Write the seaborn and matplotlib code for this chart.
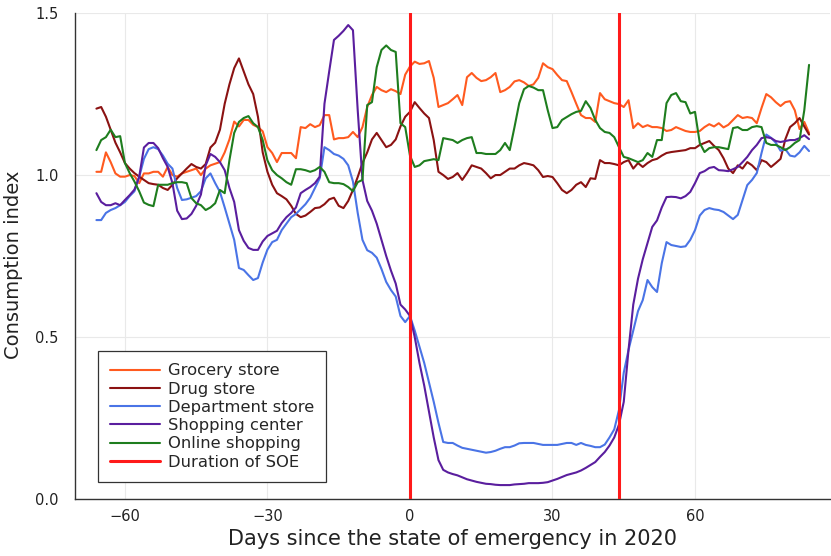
import numpy as np
import pandas as pd
import matplotlib
matplotlib.use("Agg")
import matplotlib.pyplot as plt
import seaborn as sns

# Days relative to the declaration of the state of emergency (SOE)
days = list(range(-66, 85))
soe_start, soe_end = 0, 44

grocery = [
    1.01, 1.01, 1.07, 1.04, 1.005, 0.995, 0.995, 1.00, 0.997, 0.975,
    1.005, 1.005, 1.01, 1.01, 0.995, 1.025, 1.00, 0.995, 1.005, 1.01,
    1.015, 1.02, 1.00, 1.02, 1.03, 1.035, 1.04, 1.07, 1.11, 1.165,
    1.15, 1.17, 1.17, 1.155, 1.148, 1.135, 1.086, 1.068, 1.04, 1.068,
    1.068, 1.068, 1.052, 1.148, 1.145, 1.157, 1.148, 1.154, 1.185, 1.185,
    1.11, 1.114, 1.114, 1.117, 1.133, 1.117, 1.148, 1.21, 1.247, 1.272,
    1.262, 1.256, 1.265, 1.259, 1.25, 1.31, 1.335, 1.35, 1.343, 1.345,
    1.352, 1.30, 1.21, 1.216, 1.222, 1.234, 1.247, 1.216, 1.302, 1.315,
    1.30, 1.29, 1.293, 1.302, 1.315, 1.256, 1.262, 1.272, 1.289, 1.293,
    1.286, 1.275, 1.28, 1.30, 1.345, 1.333, 1.327, 1.309, 1.293, 1.29,
    1.256, 1.22, 1.185, 1.176, 1.176, 1.164, 1.253, 1.234, 1.228, 1.222,
    1.219, 1.21, 1.231, 1.145, 1.16, 1.148, 1.154, 1.148, 1.148, 1.145,
    1.136, 1.139, 1.148, 1.142, 1.136, 1.133, 1.133, 1.136, 1.148, 1.157,
    1.15, 1.16, 1.147, 1.155, 1.17, 1.185, 1.176, 1.179, 1.176, 1.16,
    1.207, 1.25, 1.24, 1.225, 1.213, 1.225, 1.228, 1.20, 1.142, 1.164,
    1.13,
]

drug = [
    1.205, 1.21, 1.18, 1.14, 1.10, 1.07, 1.037, 1.02, 1.006, 0.995,
    0.985, 0.975, 0.972, 0.97, 0.96, 0.954, 0.97, 0.99, 1.005, 1.02,
    1.034, 1.025, 1.02, 1.034, 1.085, 1.10, 1.14, 1.22, 1.28, 1.33,
    1.36, 1.32, 1.28, 1.25, 1.18, 1.07, 1.01, 0.97, 0.944, 0.935,
    0.925, 0.905, 0.88, 0.87, 0.875, 0.886, 0.898, 0.90, 0.91, 0.925,
    0.93, 0.905, 0.898, 0.92, 0.954, 0.994, 1.037, 1.07, 1.11, 1.13,
    1.108, 1.086, 1.093, 1.11, 1.15, 1.18, 1.195, 1.225, 1.207, 1.19,
    1.176, 1.108, 1.01, 1.0, 0.988, 0.994, 1.006, 0.985, 1.006, 1.03,
    1.025, 1.02, 1.006, 0.99, 1.0, 1.0, 1.01, 1.02, 1.02, 1.03,
    1.037, 1.034, 1.03, 1.015, 0.994, 0.997, 0.994, 0.975, 0.954, 0.944,
    0.954, 0.97, 0.978, 0.963, 0.99, 0.988, 1.046, 1.037, 1.037, 1.034,
    1.03, 1.04, 1.046, 1.02, 1.037, 1.025, 1.037, 1.046, 1.05, 1.06,
    1.068, 1.071, 1.073, 1.075, 1.077, 1.083, 1.083, 1.093, 1.099, 1.105,
    1.09, 1.077, 1.052, 1.02, 1.006, 1.03, 1.02, 1.04, 1.03, 1.015,
    1.046, 1.04, 1.025, 1.037, 1.05, 1.11, 1.148, 1.16, 1.176, 1.15,
    1.125,
]

department = [
    0.861, 0.861, 0.883, 0.892, 0.898, 0.907, 0.917, 0.935, 0.95, 0.994,
    1.05, 1.08, 1.086, 1.08, 1.06, 1.035, 1.02, 0.96, 0.923, 0.925,
    0.93, 0.935, 0.95, 0.99, 1.005, 0.975, 0.948, 0.90, 0.85, 0.80,
    0.713, 0.707, 0.691, 0.676, 0.682, 0.73, 0.77, 0.793, 0.80, 0.83,
    0.85, 0.87, 0.88, 0.895, 0.91, 0.93, 0.96, 0.99, 1.086, 1.077,
    1.065, 1.06, 1.05, 1.03, 0.98, 0.883, 0.80, 0.768, 0.76, 0.745,
    0.71, 0.67, 0.645, 0.625, 0.565, 0.546, 0.565, 0.52, 0.47, 0.42,
    0.36, 0.30, 0.235, 0.176, 0.173, 0.173, 0.165, 0.158, 0.155, 0.152,
    0.149, 0.146, 0.143, 0.145, 0.149, 0.155, 0.16, 0.16, 0.165, 0.172,
    0.173, 0.173, 0.173, 0.17, 0.167, 0.167, 0.167, 0.167, 0.17, 0.173,
    0.173, 0.167, 0.173, 0.167, 0.164, 0.16, 0.16, 0.168, 0.19, 0.215,
    0.275, 0.39, 0.46, 0.52, 0.58, 0.614, 0.676, 0.654, 0.639, 0.728,
    0.793, 0.784, 0.781, 0.778, 0.78, 0.80, 0.83, 0.875, 0.892, 0.898,
    0.894, 0.892, 0.886, 0.875, 0.864, 0.877, 0.923, 0.969, 0.985, 1.006,
    1.068, 1.125, 1.115, 1.10, 1.075, 1.08, 1.06, 1.057, 1.07, 1.09,
    1.074,
]

shopping = [
    0.944, 0.917, 0.907, 0.907, 0.913, 0.907, 0.923, 0.938, 0.955, 0.994,
    1.085, 1.099, 1.099, 1.083, 1.052, 1.025, 0.975, 0.89, 0.864, 0.866,
    0.88, 0.905, 0.94, 1.03, 1.065, 1.056, 1.04, 1.015, 0.96, 0.917,
    0.83, 0.797, 0.775, 0.769, 0.769, 0.795, 0.812, 0.82, 0.828, 0.852,
    0.87, 0.883, 0.90, 0.944, 0.954, 0.963, 0.975, 0.995, 1.22, 1.32,
    1.417, 1.43, 1.445, 1.463, 1.447, 1.2, 0.985, 0.92, 0.89, 0.85,
    0.80, 0.75, 0.705, 0.665, 0.60, 0.585, 0.565, 0.50, 0.42, 0.35,
    0.27, 0.19, 0.12, 0.09, 0.082, 0.077, 0.073, 0.067, 0.061, 0.057,
    0.053, 0.05, 0.047, 0.046, 0.044, 0.043, 0.043, 0.043, 0.045, 0.046,
    0.047, 0.049, 0.049, 0.049, 0.05, 0.052, 0.057, 0.062, 0.068, 0.074,
    0.078, 0.082, 0.088, 0.096, 0.105, 0.114, 0.13, 0.145, 0.165, 0.19,
    0.23, 0.30, 0.46, 0.60, 0.68, 0.74, 0.79, 0.84, 0.86, 0.90,
    0.932, 0.933, 0.932, 0.928, 0.935, 0.948, 0.975, 1.006, 1.012, 1.022,
    1.025, 1.015, 1.014, 1.012, 1.018, 1.025, 1.04, 1.056, 1.077, 1.093,
    1.114, 1.117, 1.114, 1.105, 1.102, 1.105, 1.108, 1.108, 1.114, 1.123,
    1.111,
]

online = [
    1.077, 1.108, 1.117, 1.14, 1.117, 1.12, 1.037, 1.006, 0.98, 0.95,
    0.915, 0.908, 0.904, 0.97, 0.97, 0.97, 0.975, 0.978, 0.978, 0.975,
    0.929, 0.913, 0.907, 0.892, 0.90, 0.913, 0.954, 0.944, 1.046, 1.13,
    1.164, 1.176, 1.182, 1.16, 1.148, 1.108, 1.045, 1.015, 1.0, 0.99,
    0.978, 0.97, 1.018, 1.018, 1.015, 1.01, 1.015, 1.025, 1.01, 0.978,
    0.975, 0.975, 0.972, 0.963, 0.95, 0.978, 0.985, 1.216, 1.225, 1.333,
    1.386, 1.40, 1.386, 1.38, 1.16, 1.148, 1.06, 1.025, 1.03, 1.043,
    1.046, 1.049, 1.046, 1.114, 1.111, 1.108, 1.099, 1.108, 1.114, 1.117,
    1.068, 1.068, 1.065, 1.065, 1.065, 1.077, 1.099, 1.077, 1.148, 1.222,
    1.265, 1.275, 1.27, 1.262, 1.262, 1.20, 1.145, 1.148, 1.17, 1.179,
    1.188, 1.195, 1.198, 1.228, 1.207, 1.17, 1.145, 1.133, 1.13, 1.117,
    1.086, 1.056, 1.052, 1.046, 1.04, 1.046, 1.068, 1.056, 1.108, 1.108,
    1.222, 1.247, 1.253, 1.228, 1.225, 1.19, 1.195, 1.099, 1.071, 1.083,
    1.086, 1.086, 1.083, 1.08, 1.145, 1.148, 1.139, 1.139, 1.148, 1.151,
    1.148, 1.099, 1.093, 1.093, 1.086, 1.077, 1.086, 1.099, 1.108, 1.2,
    1.34,
]

series_names = ["Grocery store", "Drug store", "Department store",
                "Shopping center", "Online shopping"]
series_values = [grocery, drug, department, shopping, online]
colors = ["#FF5A1F", "#8B1212", "#4A74E6", "#5A1E9E", "#1E7D1E"]

frames = []
for name, vals in zip(series_names, series_values):
    assert len(vals) == len(days)
    frames.append(pd.DataFrame({"day": days, "value": vals, "series": name}))
df = pd.concat(frames, ignore_index=True)

sns.set_style("white")
plt.rcParams["font.family"] = ["DejaVu Sans"]

fig = plt.figure(figsize=(8.31, 5.56), dpi=100)
ax = fig.add_axes([0.0903, 0.1025, 0.909, 0.874])

sns.lineplot(data=df, x="day", y="value", hue="series",
             hue_order=series_names, palette=colors,
             linewidth=1.5, ax=ax)

for d in (soe_start, soe_end):
    ax.axvline(d, color="#FF1A1A", linewidth=2.2,
               label="Duration of SOE" if d == soe_start else None, zorder=3)

ax.set_xlim(-70.5, 88.5)
ax.set_ylim(0, 1.5)
ax.set_xticks([-60, -30, 0, 30, 60])
ax.set_yticks([0.0, 0.5, 1.0, 1.5])
ax.set_xticklabels(["\u221260", "\u221230", "0", "30", "60"])
ax.set_yticklabels(["0.0", "0.5", "1.0", "1.5"])

ax.grid(True, color="#e9e9e9", linewidth=0.8)
ax.set_axisbelow(True)
for side in ("top", "right"):
    ax.spines[side].set_visible(False)
for side in ("left", "bottom"):
    ax.spines[side].set_color("#333333")
    ax.spines[side].set_linewidth(1.0)
ax.tick_params(direction="in", length=4, width=0.8, color="#333333",
               labelsize=10.5, labelcolor="#222222")
ax.tick_params(axis="y", pad=12)
ax.tick_params(axis="x", pad=7)

ax.set_xlabel("Days since the state of emergency in 2020", fontsize=15,
              color="#222222", labelpad=4)
ax.set_ylabel("Consumption index", fontsize=14, color="#222222")
ax.yaxis.set_label_coords(-0.069, 0.481)

handles, labels = ax.get_legend_handles_labels()
leg = ax.legend(handles, labels, loc="lower left",
                bbox_to_anchor=(0.0305, 0.035), borderaxespad=0,
                fontsize=11.8, frameon=True, fancybox=False, framealpha=1,
                edgecolor="#333333", borderpad=0.75, labelspacing=0.2,
                handlelength=3.0, handletextpad=0.5, title=None)
leg.get_frame().set_linewidth(0.9)

fig.savefig("out.png", dpi=100)
